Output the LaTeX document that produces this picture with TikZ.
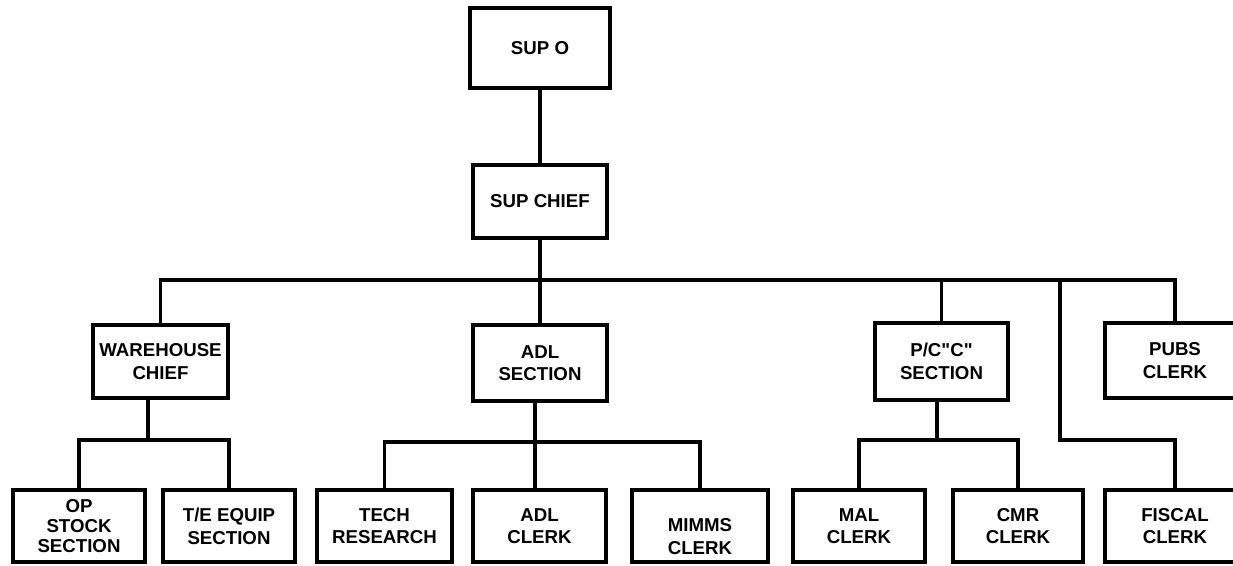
\documentclass[tikz,border=0pt]{standalone}
\usepackage{fontspec}
\setmainfont{Liberation Sans}
\begin{document}
\begin{tikzpicture}[x=0.75pt,y=-0.75pt,
  box/.style={draw=black, line width=3pt, inner sep=0pt, align=center,
    font=\bfseries\fontsize{14}{17}\selectfont},
  sz/.style 2 args={minimum width=#1*0.75pt, minimum height=#2*0.75pt},
  conn/.style={draw=black, line width=2.8pt, line cap=rect}]
\useasboundingbox (0,0) rectangle (1233,565);
\fill[white] (0,0) rectangle (1233,565);

% top
\node[box, sz={140}{80}] (sup0) at (540,48) {SUP O};
\node[box, sz={134}{73}] (supchief) at (540,201.5) {SUP CHIEF};

% second level
\node[box, sz={135}{73}] (wh) at (160.5,361.5) {WAREHOUSE\\CHIEF};
\node[box, sz={134}{76}] (adl) at (540,363) {ADL\\SECTION};
\node[box, sz={133}{77}] (pc) at (941.5,361.5) {P/C\textquotedbl C\textquotedbl\\SECTION};
\node[box, sz={140}{75}] (pubs) at (1175,360.5) {PUBS\\CLERK};

% bottom level
\node[box, sz={132}{72}] (op) at (79,526) {OP\\[-2pt]STOCK\\[-2pt]SECTION};
\node[box, sz={132}{72}] (te) at (229,526) {T/E EQUIP\\SECTION};
\node[box, sz={135}{72}] (tech) at (384.5,526) {TECH\\RESEARCH};
\node[box, sz={133}{72}] (adlc) at (539.5,526) {ADL\\CLERK};
\node[box, sz={136}{72}] (mimms) at (700,526) {\\[9pt]MIMMS\\CLERK};
\node[box, sz={132}{72}] (mal) at (859,526) {MAL\\CLERK};
\node[box, sz={130}{72}] (cmr) at (1018,526) {CMR\\CLERK};
\node[box, sz={140}{72}] (fiscal) at (1175,526) {FISCAL\\CLERK};

% junction coordinates
\coordinate (mainbus) at (540,280);
\coordinate (fisc) at (1060,280);
\coordinate (fiscbend) at (1060,440);
\coordinate (whbus) at (148,440);
\coordinate (adlbus) at (535,442);
\coordinate (pcbus) at (937,440);

% connectors
\draw[conn] (sup0) -- (supchief);
\draw[conn] (supchief.south) -- (mainbus);
\draw[conn] (wh.north) |- (mainbus) -| (pubs.north);
\draw[conn] (mainbus) -- (adl.north);
\draw[conn] (pc.north) -- (pc.north |- mainbus);
\draw[conn] (fisc) -- (fiscbend) -| (fiscal.north);

\draw[conn] (wh.south -| whbus) -- (whbus);
\draw[conn] (op.north) |- (whbus) -| (te.north);

\draw[conn] (adl.south -| adlbus) -- (adlbus);
\draw[conn] (tech.north) |- (adlbus) -| (mimms.north);
\draw[conn] (adlbus) -- (adlc.north -| adlbus);

\draw[conn] (pc.south -| pcbus) -- (pcbus);
\draw[conn] (mal.north) |- (pcbus) -| (cmr.north);
\end{tikzpicture}
\end{document}
